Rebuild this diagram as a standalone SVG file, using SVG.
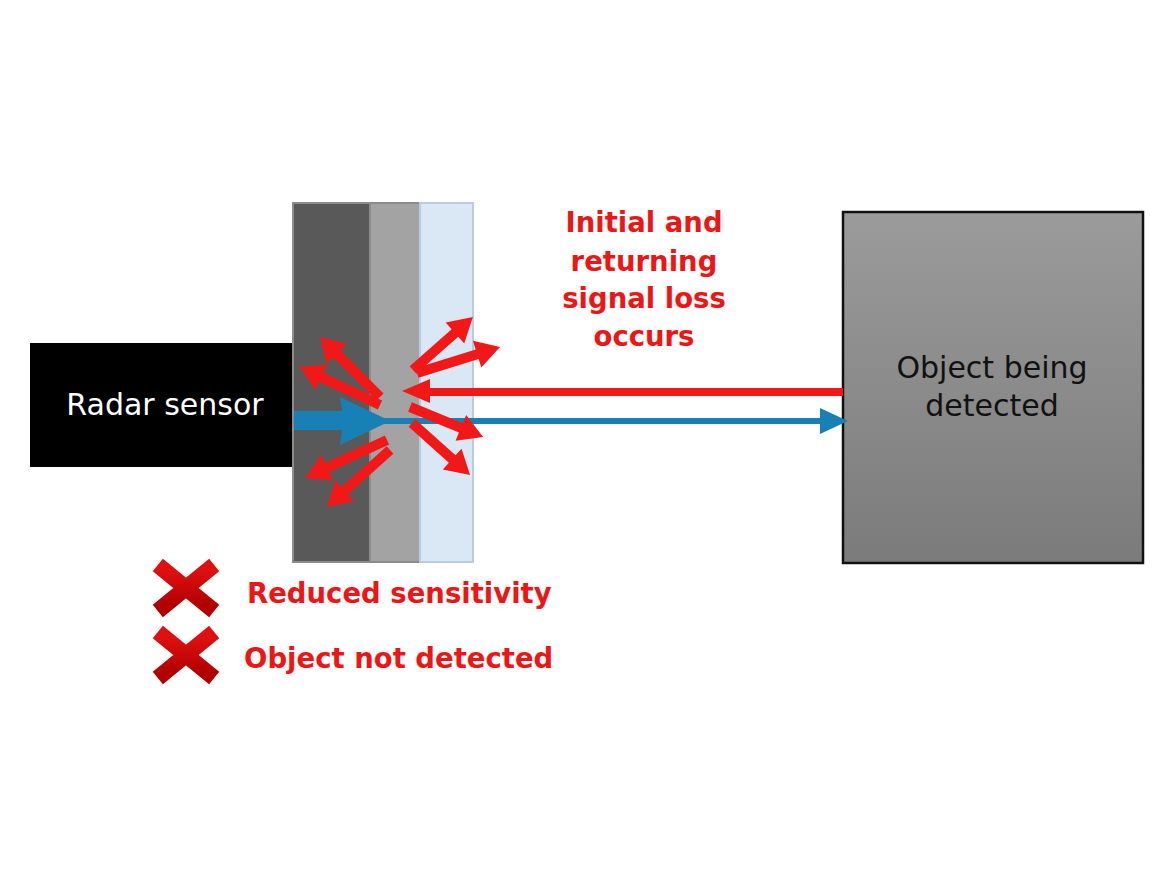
<svg xmlns="http://www.w3.org/2000/svg" width="1170" height="878" viewBox="0 0 1170 878">
<defs>
<linearGradient id="objGrad" x1="0" y1="0" x2="0" y2="1">
<stop offset="0" stop-color="#9b9b9b"/>
<stop offset="1" stop-color="#7b7b7b"/>
</linearGradient>
<linearGradient id="xGrad" x1="0" y1="0" x2="0" y2="1">
<stop offset="0" stop-color="#e01010"/>
<stop offset="1" stop-color="#b00000"/>
</linearGradient>
<path id="xmark" d="M-22,-18 L22,18 M22,-18 L-22,18" stroke="url(#xGrad)" stroke-width="16" stroke-linecap="square" fill="none"/>
</defs>
<style>
.red{fill:#f21818;}
.lbl{font-family:"DejaVu Sans",sans-serif;font-size:30px;}
.warn{font-family:"DejaVu Sans",sans-serif;font-weight:bold;font-size:27.5px;fill:#ee1515;}
</style>
<rect width="1170" height="878" fill="#ffffff"/>

<g id="radar-sensor">
<rect x="30" y="343" width="266" height="124" fill="#000000"/>
<text class="lbl" x="165" y="415" text-anchor="middle" fill="#ffffff">Radar sensor</text>
</g>

<g id="layers">
<rect x="293" y="203" width="77" height="359" fill="#595959" stroke="#8c8c8c" stroke-width="2"/>
<rect x="370" y="203" width="50" height="359" fill="#a3a3a3" stroke="#8c8c8c" stroke-width="2"/>
<rect x="420" y="203" width="53" height="359" fill="#dae7f4" stroke="#b7cce0" stroke-width="2"/>
</g>

<g id="object">
<rect x="843" y="212" width="300" height="351" fill="url(#objGrad)" stroke="#111111" stroke-width="2.5"/>
<text class="lbl" x="992" y="378" text-anchor="middle" fill="#111111">Object being</text>
<text class="lbl" x="992" y="416" text-anchor="middle" fill="#111111">detected</text>
</g>

<g id="connectors">
<path class="red" d="M843,388 L430,388 L430,379 L402,391 L430,403 L430,396 L843,396 Z"/>
<path fill="#1780b4" d="M294,411 L342,411 L340,397 L384,418 L820,418 L820,408 L848,421 L820,434 L820,424 L384,424 L340,445 L342,430 L294,430 Z"/>
<g class="red">
<path transform="translate(380,397) rotate(-135)" d="M0,-5 L61,-5 L61,-14 L85,0 L61,14 L61,5 L0,5 Z"/>
<path transform="translate(380,405) rotate(-154.6)" d="M0,-5 L65,-5 L65,-14 L89,0 L65,14 L65,5 L0,5 Z"/>
<path transform="translate(413,370) rotate(-41.5)" d="M0,-5 L56,-5 L56,-14 L80,0 L56,14 L56,5 L0,5 Z"/>
<path transform="translate(417,373) rotate(-17.4)" d="M0,-5 L63,-5 L63,-14 L87,0 L63,14 L63,5 L0,5 Z"/>
<path transform="translate(410,407) rotate(22.3)" d="M0,-5 L55,-5 L55,-14 L79,0 L55,14 L55,5 L0,5 Z"/>
<path transform="translate(412,423) rotate(41.9)" d="M0,-5 L54,-5 L54,-14 L78,0 L54,14 L54,5 L0,5 Z"/>
<path transform="translate(387,440) rotate(155.1)" d="M0,-5 L66,-5 L66,-14 L90,0 L66,14 L66,5 L0,5 Z"/>
<path transform="translate(390,450) rotate(137.9)" d="M0,-5 L61,-5 L61,-14 L85,0 L61,14 L61,5 L0,5 Z"/>
</g>
</g>

<g id="signal-loss-label">
<text class="warn" x="644" y="232" text-anchor="middle">Initial and</text>
<text class="warn" x="644" y="271" text-anchor="middle">returning</text>
<text class="warn" x="644" y="308" text-anchor="middle">signal loss</text>
<text class="warn" x="644" y="346" text-anchor="middle">occurs</text>
</g>

<g id="reduced-sensitivity">
<use href="#xmark" x="186" y="588"/>
<text class="warn" x="247" y="603">Reduced sensitivity</text>
</g>

<g id="object-not-detected">
<use href="#xmark" x="186" y="655"/>
<text class="warn" x="244" y="668">Object not detected</text>
</g>
</svg>
